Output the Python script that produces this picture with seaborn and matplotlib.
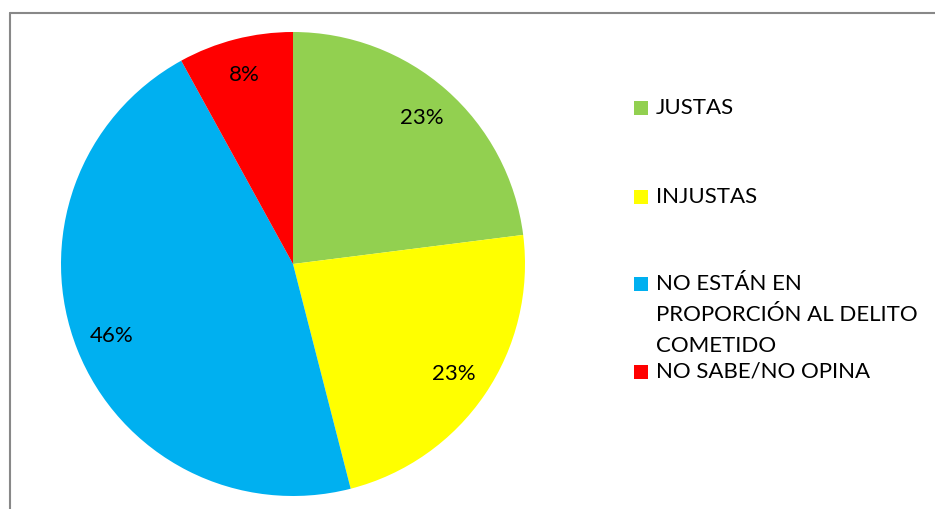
import matplotlib
matplotlib.use("Agg")
import matplotlib.pyplot as plt
from matplotlib.patches import Rectangle
from matplotlib.lines import Line2D
import seaborn as sns

categories = ["JUSTAS", "INJUSTAS", "NO ESTÁN EN\nPROPORCIÓN AL DELITO\nCOMETIDO", "NO SABE/NO OPINA"]
values = [23, 23, 46, 8]
colors = ["#92D050", "#FFFF00", "#00B0F0", "#FF0000"]

sns.set_theme(style="white")
plt.rcParams['font.family'] = ['Lato', 'DejaVu Sans']

W, H = 935, 509
fig = plt.figure(figsize=(W / 100, H / 100), dpi=100)
fig.patch.set_facecolor("white")

cx, cy, r = 293, 264, 232
ax = fig.add_axes([(cx - r) / W, (H - cy - r) / H, 2 * r / W, 2 * r / H])
ax.pie(values, colors=colors, startangle=90, counterclock=False,
       autopct=lambda p: f"{p:.0f}%", pctdistance=0.84, radius=1,
       wedgeprops=dict(linewidth=0),
       textprops=dict(fontsize=16, color="black"))
ax.set_xlim(-1, 1)
ax.set_ylim(-1, 1)
ax.set_aspect("equal")
ax.axis("off")

# frame
fig.add_artist(Line2D([9.5 / W, 1.0], [1 - 12.5 / H, 1 - 12.5 / H], transform=fig.transFigure, color="#888888", lw=1.5))
fig.add_artist(Line2D([9.5 / W, 9.5 / W], [0, 1 - 12.5 / H], transform=fig.transFigure, color="#888888", lw=1.5))

# legend
row_y = [108, 197, 284, 372]
line_h = 31
for cat, col, y in zip(categories, colors, row_y):
    fig.add_artist(Rectangle((634 / W, 1 - (y + 7) / H), 14 / W, 14 / H,
                             transform=fig.transFigure, color=col, lw=0))
    for i, line in enumerate(cat.split("\n")):
        fig.text(656 / W, 1 - (y + i * line_h) / H, line, fontsize=16,
                 va="center", ha="left", color="black")

fig.savefig("out.png", dpi=100, facecolor="white")
